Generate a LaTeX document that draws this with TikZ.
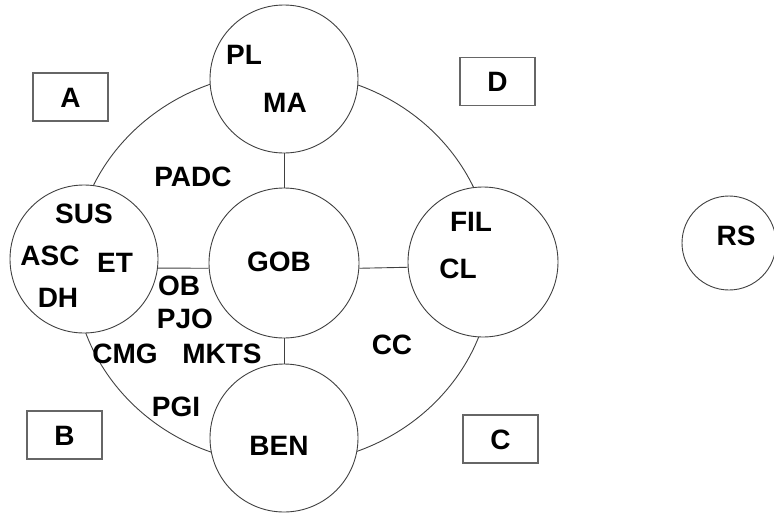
\documentclass[tikz,border=0pt]{standalone}
\usepackage{fontspec}
\setmainfont{Liberation Sans}
\begin{document}
\begin{tikzpicture}[x=1pt,y=-1pt,
  ring/.style={draw=black!75,line width=0.9pt},
  circ/.style={circle,draw=black!75,line width=0.9pt,fill=white,inner sep=0pt},
  link/.style={draw=black!75,line width=0.9pt},
  lbl/.style={font=\fontsize{28}{30}\selectfont\bfseries,text height=20pt,text depth=0pt,inner sep=0pt},
  boxnode/.style={draw=black!60,line width=1.4pt,minimum width=75pt,minimum height=48pt,inner sep=0pt,
    font=\fontsize{28}{30}\selectfont\bfseries,text height=20pt,text depth=0pt}]
\useasboundingbox (0,0) rectangle (774,512);
% ring
\draw[ring] (283,268) ellipse [x radius=209pt, y radius=196pt];
% circles
\node[circ,minimum size=148pt] (top) at (284,79) {};
\node[circ,minimum size=150pt] (gob) at (284,263) {};
\node[circ,minimum size=148pt] (left) at (84,259) {};
\node[circ,minimum size=150pt] (right) at (483,262) {};
\node[circ,minimum size=148pt] (ben) at (284,438) {};
\node[circ,minimum size=94pt] (rs) at (729,243) {};
% connectors
\draw[link] (top.south) -- (gob.north);
\draw[link] (gob.south) -- (ben.north);
\draw[link] (left.-7) -- (gob.184);
\draw[link] (gob.-4) -- (right.184);
% boxes
\node[boxnode] (A) at (70.5,97) {A};
\node[boxnode] (D) at (497.5,81.5) {D};
\node[boxnode] (B) at (64.5,435) {B};
\node[boxnode] (C) at (500.5,439) {C};
% labels
\node[lbl] (pl) at (244,54) {PL};
\node[lbl] (ma) at (285,102) {MA};
\node[lbl] (padc) at (193,176) {PADC};
\node[lbl] (sus) at (84,213) {SUS};
\node[lbl] (asc) at (50,255) {ASC};
\node[lbl] (et) at (115,262) {ET};
\node[lbl] (dh) at (58,297) {DH};
\node[lbl] (ob) at (179,285) {OB};
\node[lbl] (pjo) at (185,318) {PJO};
\node[lbl] (cmg) at (125,353) {CMG};
\node[lbl] (mkts) at (222,353) {MKTS};
\node[lbl] (goblbl) at (279,261) {GOB};
\node[lbl] (fil) at (471,221) {FIL};
\node[lbl] (cl) at (458,268) {CL};
\node[lbl] (pgi) at (176,406) {PGI};
\node[lbl] (benlbl) at (279,445) {BEN};
\node[lbl] (cc) at (392,344) {CC};
\node[lbl] (rslbl) at (736,235) {RS};
\end{tikzpicture}
\end{document}
